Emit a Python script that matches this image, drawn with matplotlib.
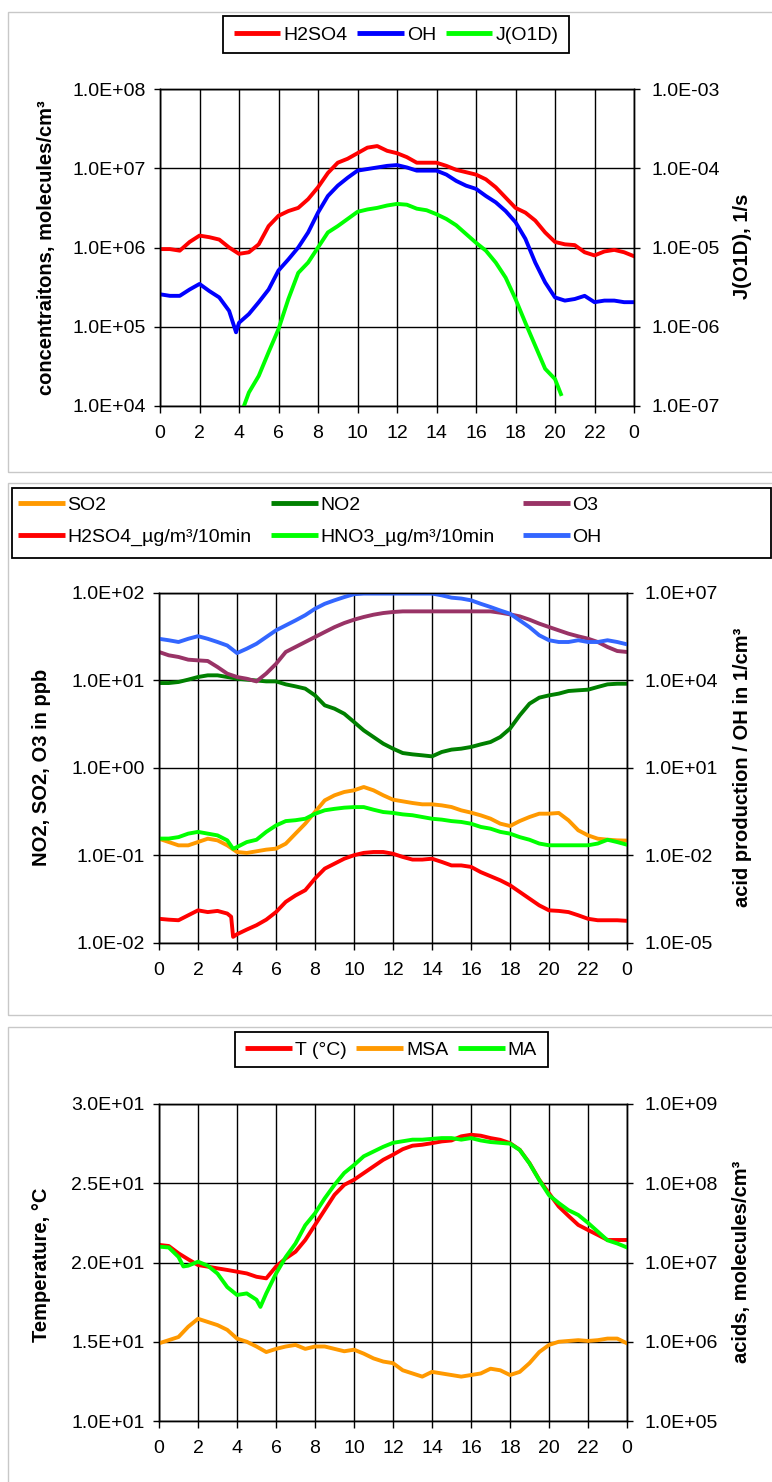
"""Diurnal cycles of acids, oxidants and meteorology - three stacked panels."""

import matplotlib

matplotlib.use("Agg")
import matplotlib.pyplot as plt
import numpy as np
from matplotlib.lines import Line2D
from matplotlib.patches import Rectangle
from matplotlib.ticker import FixedLocator, FuncFormatter, NullLocator

W, H = 772, 1482
plt.rcParams["font.family"] = ["Liberation Sans", "DejaVu Sans"]

# hour of day (half-hour steps); the last tick "0" is midnight again
HOURS = [0, 0.5, 1, 1.5, 2, 2.5, 3, 3.5, 4, 4.5, 5, 5.5, 6, 6.5, 7, 7.5, 8, 8.5,
         9, 9.5, 10, 10.5, 11, 11.5, 12, 12.5, 13, 13.5, 14, 14.5, 15, 15.5, 16,
         16.5, 17, 17.5, 18, 18.5, 19, 19.5, 20, 20.5, 21, 21.5, 22, 22.5, 23,
         23.5, 24]
HOUR_TICKS = [0, 2, 4, 6, 8, 10, 12, 14, 16, 18, 20, 22, 24]
HOUR_LABELS = ["0", "2", "4", "6", "8", "10", "12", "14", "16", "18", "20", "22", "0"]

# ---- panel 1 (values are log10) ----
P1_H2SO4 = [5.98, 5.98, 5.96, 6.07, 6.15, 6.13, 6.10, 6.00, 5.92, 5.94, 6.04, 6.27,
            6.40, 6.46, 6.50, 6.61, 6.76, 6.94, 7.07, 7.12, 7.19, 7.26, 7.28, 7.22,
            7.19, 7.14, 7.07, 7.07, 7.07, 7.03, 6.98, 6.95, 6.92, 6.86, 6.76, 6.63,
            6.50, 6.44, 6.34, 6.19, 6.07, 6.04, 6.03, 5.94, 5.90, 5.95, 5.97, 5.94, 5.89]
P1_OH_HOURS = HOURS[:8] + [3.85] + HOURS[8:]
P1_OH = [5.41, 5.39, 5.39, 5.47, 5.54, 5.45, 5.37, 5.20, 4.93,
         5.05, 5.16, 5.31, 5.47, 5.71, 5.85, 6.00, 6.19, 6.44, 6.65, 6.78, 6.88,
         6.97, 6.99, 7.01, 7.03, 7.04, 7.01, 6.97, 6.97, 6.97, 6.92, 6.84, 6.78,
         6.74, 6.65, 6.57, 6.46, 6.32, 6.11, 5.81, 5.56, 5.37, 5.33, 5.35, 5.39,
         5.31, 5.33, 5.33, 5.31, 5.31]
P1_J_HOURS = [4.25] + HOURS[9:41] + [20.3]
P1_J = [-7.00, -6.83, -6.62, -6.32, -6.03, -5.65, -5.32, -5.19, -5.00, -4.81, -4.73,
        -4.64, -4.55, -4.52, -4.50, -4.47, -4.45, -4.46, -4.51, -4.53, -4.58, -4.64,
        -4.72, -4.83, -4.94, -5.04, -5.19, -5.38, -5.65, -5.95, -6.24, -6.53, -6.66,
        -6.85]

# ---- panel 2 (values are log10) ----
P2_SO2 = [-0.808, -0.846, -0.884, -0.884, -0.846, -0.808, -0.827, -0.884, -0.960,
          -0.971, -0.952, -0.933, -0.922, -0.865, -0.750, -0.636, -0.503, -0.370,
          -0.312, -0.274, -0.255, -0.217, -0.255, -0.312, -0.362, -0.381, -0.400,
          -0.415, -0.415, -0.427, -0.446, -0.484, -0.510, -0.541, -0.579, -0.636,
          -0.663, -0.606, -0.560, -0.522, -0.522, -0.514, -0.598, -0.712, -0.770,
          -0.808, -0.819, -0.827, -0.830]
P2_NO2 = [0.971, 0.971, 0.983, 1.010, 1.040, 1.059, 1.059, 1.040, 1.021, 1.010,
          1.000, 0.990, 0.990, 0.956, 0.933, 0.907, 0.830, 0.716, 0.678, 0.620,
          0.526, 0.430, 0.354, 0.278, 0.221, 0.171, 0.156, 0.145, 0.133, 0.183,
          0.210, 0.221, 0.240, 0.270, 0.297, 0.354, 0.450, 0.602, 0.735, 0.804,
          0.830, 0.850, 0.880, 0.888, 0.895, 0.926, 0.956, 0.963, 0.963]
P2_O3 = [1.326, 1.288, 1.269, 1.238, 1.230, 1.223, 1.154, 1.078, 1.040, 1.020,
         0.990, 1.080, 1.190, 1.326, 1.383, 1.440, 1.497, 1.554, 1.610, 1.657,
         1.695, 1.726, 1.752, 1.771, 1.783, 1.790, 1.790, 1.790, 1.790, 1.790,
         1.790, 1.790, 1.790, 1.790, 1.790, 1.775, 1.756, 1.733, 1.695, 1.650,
         1.611, 1.573, 1.535, 1.505, 1.478, 1.440, 1.383, 1.337, 1.326]
P2_H2SO4_HOURS = HOURS[:8] + [3.7, 3.8] + HOURS[8:]
P2_H2SO4 = [-4.17, -4.20, -4.22, -4.05, -3.88, -3.94, -3.90, -3.99, -4.10, -4.79,
            -4.70, -4.54, -4.39, -4.20, -3.94, -3.59, -3.37, -3.19, -2.79, -2.45,
            -2.28, -2.11, -1.99, -1.91, -1.88, -1.88, -1.94, -2.05, -2.14, -2.14,
            -2.11, -2.22, -2.34, -2.34, -2.39, -2.57, -2.71, -2.85, -3.02, -3.25,
            -3.48, -3.71, -3.88, -3.90, -3.94, -4.05, -4.17, -4.22, -4.22, -4.22,
            -4.24]
P2_HNO3_HOURS = HOURS[:8] + [3.8] + HOURS[8:]
P2_HNO3 = [-1.42, -1.42, -1.37, -1.25, -1.19, -1.25, -1.31, -1.48, -1.77, -1.71,
           -1.54, -1.46, -1.19, -0.97, -0.82, -0.79, -0.74, -0.57, -0.45, -0.40,
           -0.36, -0.34, -0.34, -0.43, -0.51, -0.54, -0.59, -0.62, -0.68, -0.74,
           -0.77, -0.82, -0.85, -0.91, -1.02, -1.08, -1.19, -1.25, -1.37, -1.46,
           -1.59, -1.65, -1.65, -1.65, -1.65, -1.65, -1.59, -1.46, -1.54, -1.63]
P2_OH = [5.43, 5.38, 5.32, 5.43, 5.52, 5.43, 5.32, 5.20, 4.94, 5.09, 5.26, 5.49,
         5.72, 5.89, 6.06, 6.24, 6.46, 6.63, 6.75, 6.86, 6.96, 6.98, 6.98, 6.98,
         6.98, 6.98, 6.98, 6.98, 6.98, 6.92, 6.84, 6.81, 6.75, 6.63, 6.52, 6.40,
         6.29, 6.06, 5.83, 5.55, 5.38, 5.32, 5.32, 5.38, 5.32, 5.32, 5.38, 5.32, 5.24]

# ---- panel 3 ----
P3_T = [21.11, 21.04, 20.58, 20.20, 19.84, 19.74, 19.63, 19.53, 19.42, 19.31,
        19.10, 19.00, 19.74, 20.26, 20.68, 21.42, 22.37, 23.32, 24.27, 24.90,
        25.22, 25.64, 26.06, 26.48, 26.80, 27.15, 27.37, 27.43, 27.53, 27.64,
        27.70, 27.96, 28.06, 28.00, 27.85, 27.74, 27.53, 27.11, 26.27, 25.22,
        24.37, 23.53, 22.94, 22.37, 22.05, 21.74, 21.42, 21.42, 21.42]
P3_MSA = [5.98, 6.02, 6.06, 6.19, 6.29, 6.25, 6.21, 6.15, 6.04, 6.00, 5.94, 5.87,
          5.91, 5.94, 5.96, 5.91, 5.94, 5.94, 5.91, 5.88, 5.90, 5.85, 5.79, 5.75,
          5.73, 5.64, 5.60, 5.56, 5.62, 5.60, 5.58, 5.56, 5.58, 5.60, 5.66, 5.64,
          5.58, 5.62, 5.73, 5.87, 5.96, 6.00, 6.01, 6.02, 6.01, 6.02, 6.04, 6.04, 5.98]
P3_MA_HOURS = HOURS[:3] + [1.25] + HOURS[3:11] + [5.2] + HOURS[11:]
P3_MA = [7.20, 7.19, 7.07, 6.95, 6.96, 7.01, 6.96, 6.86, 6.69, 6.59, 6.61, 6.53,
         6.44, 6.61, 6.86, 7.07, 7.24, 7.47, 7.62, 7.81, 7.98, 8.13, 8.23, 8.34,
         8.40, 8.46, 8.51, 8.53, 8.55, 8.55, 8.56, 8.57, 8.57, 8.55, 8.57, 8.54,
         8.52, 8.51, 8.50, 8.42, 8.25, 8.04, 7.85, 7.75, 7.66, 7.60, 7.50, 7.39,
         7.28, 7.24, 7.19]

RED, BLUE, LIME = "#FF0000", "#0000FF", "#00FF00"
ORANGE, DKGREEN, PURPLE, LBLUE = "#FF9900", "#008000", "#993366", "#3366FF"
LW = 2.8
FS = 14
LABEL_FS = 14.5


def fx(px):
    return px / W


def fy(py):
    return 1 - py / H


def sci(v, _pos=None):
    return f"{v:.1E}"


def make_axes(fig, x0, x1, y0, y1):
    ax = fig.add_axes([fx(x0), fy(y1), fx(x1) - fx(x0), fy(y0) - fy(y1)])
    ax2 = ax.twinx()
    ax.set_xlim(0, 24)
    ax.xaxis.set_major_locator(FixedLocator(HOUR_TICKS))
    ax.set_xticklabels(HOUR_LABELS)
    ax.grid(True, axis="both", color="black", linewidth=1.0)
    for a in (ax, ax2):
        for sp in a.spines.values():
            sp.set_color("black")
            sp.set_linewidth(1.0)
        a.yaxis.set_minor_locator(NullLocator())
    ax.tick_params(axis="y", direction="out", length=4.3, width=1, pad=6,
                   labelsize=FS)
    ax.tick_params(axis="x", direction="out", length=5, width=1, pad=9,
                   labelsize=FS)
    ax2.tick_params(axis="y", direction="out", length=4.3, width=1, pad=8,
                    labelsize=FS)
    return ax, ax2


def log_axis(a, lo, hi, ticks):
    a.set_yscale("log")
    a.set_ylim(10.0 ** lo, 10.0 ** hi)
    a.yaxis.set_major_locator(FixedLocator([10.0 ** t for t in ticks]))
    a.yaxis.set_minor_locator(NullLocator())
    a.yaxis.set_major_formatter(FuncFormatter(sci))


def frame_box(fig, x0, y0, x1, y1, color="black", lw=1.3):
    fig.add_artist(Rectangle((fx(x0), fy(y1)), fx(x1) - fx(x0), fy(y0) - fy(y1),
                             transform=fig.transFigure, fill=False,
                             edgecolor=color, linewidth=lw))


def handles(specs):
    return [Line2D([], [], color=c, linewidth=3.5, solid_capstyle="butt")
            for c in specs]


def plot_log(a, x, y, color):
    a.plot(x, 10.0 ** np.array(y), color=color, linewidth=LW,
           solid_joinstyle="round")


fig = plt.figure(figsize=(W / 100, H / 100), dpi=100)

# light grey panel borders
for top, bottom in ((12, 472), (483, 1015), (1027, 1500)):
    frame_box(fig, 8, top, 790, bottom, color="#c8c8c8", lw=1.0)

# ---------------- panel 1 ----------------
ax, ax2 = make_axes(fig, 160, 634, 89, 406)
log_axis(ax, 4, 8, [4, 5, 6, 7, 8])
log_axis(ax2, -7, -3, [-7, -6, -5, -4, -3])
plot_log(ax, HOURS, P1_H2SO4, RED)
plot_log(ax, P1_OH_HOURS, P1_OH, BLUE)
plot_log(ax2, P1_J_HOURS, P1_J, LIME)
fig.text(fx(47), fy(248), "concentraitons, molecules/cm³", rotation=90,
         ha="center", va="center", fontsize=LABEL_FS, fontweight="bold")
fig.text(fx(742), fy(246), "J(O1D), 1/s", rotation=90,
         ha="center", va="center", fontsize=LABEL_FS, fontweight="bold")
frame_box(fig, 223, 16, 569, 53)
fig.legend(handles([RED, BLUE, LIME]), ["H2SO4", "OH", "J(O1D)"],
           loc="center", bbox_to_anchor=(fx(396), fy(35)), ncol=3,
           frameon=False, fontsize=FS, handlelength=2.4, handletextpad=0.15,
           columnspacing=0.5, borderpad=0, borderaxespad=0)

# ---------------- panel 2 ----------------
ax, ax2 = make_axes(fig, 159, 627, 593, 943)
log_axis(ax, -2, 2, [-2, -1, 0, 1, 2])
log_axis(ax2, -5, 7, [-5, -2, 1, 4, 7])
plot_log(ax, HOURS, P2_SO2, ORANGE)
plot_log(ax, HOURS, P2_NO2, DKGREEN)
plot_log(ax, HOURS, P2_O3, PURPLE)
plot_log(ax2, P2_H2SO4_HOURS, P2_H2SO4, RED)
plot_log(ax2, P2_HNO3_HOURS, P2_HNO3, LIME)
plot_log(ax2, HOURS, P2_OH, LBLUE)
fig.text(fx(42), fy(767), "NO2, SO2, O3 in ppb", rotation=90,
         ha="center", va="center", fontsize=LABEL_FS, fontweight="bold")
fig.text(fx(742), fy(767), "acid production / OH in 1/cm³", rotation=90,
         ha="center", va="center", fontsize=LABEL_FS, fontweight="bold")
frame_box(fig, 12, 488, 771, 558)
legend_cols = [
    (18, [ORANGE, RED], ["SO2", "H2SO4_µg/m³/10min"]),
    (271, [DKGREEN, LIME], ["NO2", "HNO3_µg/m³/10min"]),
    (523, [PURPLE, LBLUE], ["O3", "OH"]),
]
for x0, cols, labels in legend_cols:
    fig.legend(handles(cols), labels, loc="upper left",
               bbox_to_anchor=(fx(x0), fy(496)), ncol=1, frameon=False,
               fontsize=FS, handlelength=2.4, handletextpad=0.15,
               labelspacing=0.75, borderpad=0, borderaxespad=0)

# ---------------- panel 3 ----------------
ax, ax2 = make_axes(fig, 159, 627, 1104, 1421)
ax.set_ylim(10, 30)
ax.yaxis.set_major_locator(FixedLocator([10, 15, 20, 25, 30]))
ax.yaxis.set_major_formatter(FuncFormatter(sci))
log_axis(ax2, 5, 9, [5, 6, 7, 8, 9])
ax.plot(HOURS, P3_T, color=RED, linewidth=LW, solid_joinstyle="round")
plot_log(ax2, HOURS, P3_MSA, ORANGE)
plot_log(ax2, P3_MA_HOURS, P3_MA, LIME)
fig.text(fx(42), fy(1265), "Temperature, °C", rotation=90,
         ha="center", va="center", fontsize=LABEL_FS, fontweight="bold")
fig.text(fx(742), fy(1262), "acids, molecules/cm³", rotation=90,
         ha="center", va="center", fontsize=LABEL_FS, fontweight="bold")
frame_box(fig, 235, 1032, 548, 1067)
fig.legend(handles([RED, ORANGE, LIME]), ["T (°C)", "MSA", "MA"],
           loc="center", bbox_to_anchor=(fx(391), fy(1050)), ncol=3,
           frameon=False, fontsize=FS, handlelength=2.4, handletextpad=0.15,
           columnspacing=0.5, borderpad=0, borderaxespad=0)

fig.savefig("out.png", dpi=100)
